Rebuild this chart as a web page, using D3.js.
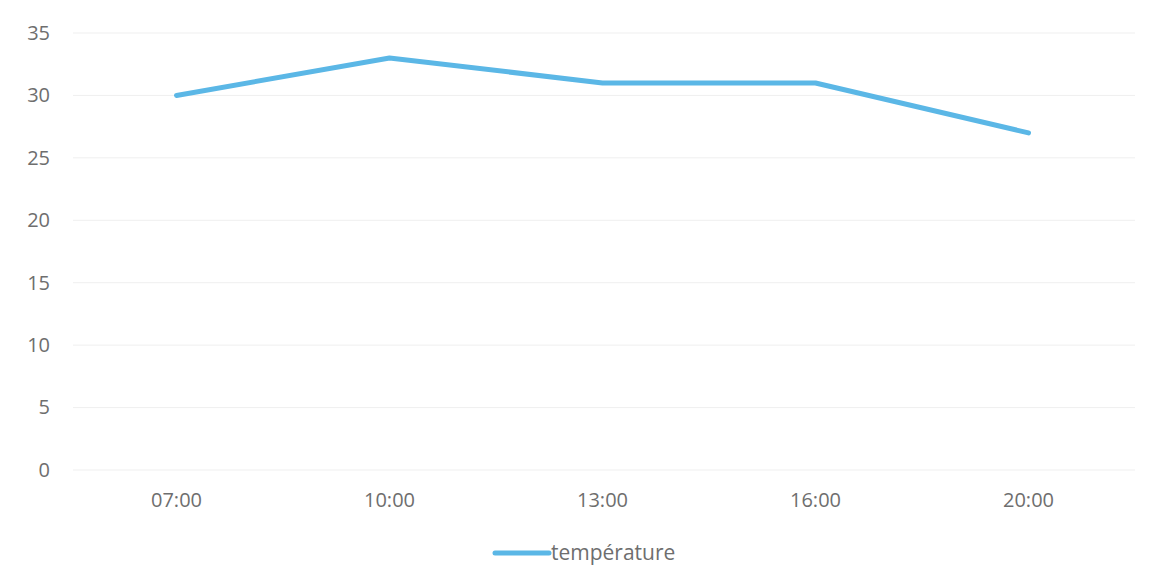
<!DOCTYPE html>
<html>
<head>
<meta charset="utf-8">
<script src="https://cdn.jsdelivr.net/npm/d3@7"></script>
<style>
  html, body { margin: 0; padding: 0; background: #fff; }
  svg text { font-family: "Open Sans", "Noto Sans", sans-serif; fill: #6e6e6e; }
</style>
</head>
<body>
<svg id="chart" width="1155" height="588"></svg>
<script>
// Hourly temperature readings
const hours = ["07:00", "10:00", "13:00", "16:00", "20:00"];
const temperature = [30, 33, 31, 31, 27];
const yTicks = [0, 5, 10, 15, 20, 25, 30, 35];
const seriesName = "température";

const svg = d3.select("#chart");
const margin = { top: 33, right: 20, bottom: 118, left: 70 };
const width = 1155, height = 588;
const fontSize = 20;

const x = d3.scaleBand()
  .domain(hours)
  .range([margin.left, width - margin.right]);

const y = d3.scaleLinear()
  .domain([0, 35])
  .range([height - margin.bottom, margin.top]);

const lineColor = "#5bb7e6";

// horizontal gridlines
svg.append("g")
  .selectAll("line")
  .data(yTicks)
  .join("line")
  .attr("x1", margin.left + 3)
  .attr("x2", width - margin.right)
  .attr("y1", d => y(d))
  .attr("y2", d => y(d))
  .attr("stroke", "#efefef")
  .attr("stroke-width", 1);

// y axis labels
const yAxis = d3.axisLeft(y).tickValues(yTicks).tickSize(0).tickPadding(0);
const gy = svg.append("g")
  .attr("transform", `translate(${margin.left - 20},0)`)
  .call(yAxis);
gy.select(".domain").remove();
gy.selectAll("text")
  .attr("font-size", fontSize)
  .attr("text-anchor", "end")
  .style("font-family", "'Open Sans', sans-serif");

// x axis labels
const xAxis = d3.axisBottom(x).tickSize(0).tickPadding(0);
const gx = svg.append("g")
  .attr("transform", `translate(0,${y(0) + 23})`)
  .call(xAxis);
gx.select(".domain").remove();
gx.selectAll("text")
  .attr("font-size", fontSize)
  .style("font-family", "'Open Sans', sans-serif");

// temperature line
const line = d3.line()
  .x((d, i) => x(hours[i]) + x.bandwidth() / 2)
  .y(d => y(d));

svg.append("path")
  .datum(temperature)
  .attr("d", line)
  .attr("fill", "none")
  .attr("stroke", lineColor)
  .attr("stroke-width", 5)
  .attr("stroke-linejoin", "round")
  .attr("stroke-linecap", "round");

// legend
const legend = svg.append("g").attr("transform", "translate(495,553)");
legend.append("line")
  .attr("x1", 0).attr("x2", 54)
  .attr("y1", 0).attr("y2", 0)
  .attr("stroke", lineColor)
  .attr("stroke-width", 5)
  .attr("stroke-linecap", "round");
legend.append("text")
  .attr("x", 56)
  .attr("y", 0)
  .attr("dy", "0.35em")
  .attr("font-size", 21)
  .text(seriesName);
</script>
</body>
</html>
